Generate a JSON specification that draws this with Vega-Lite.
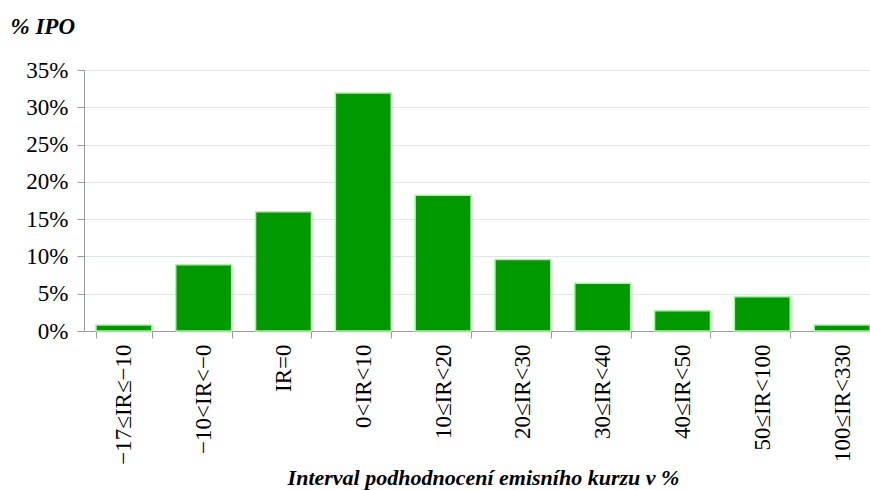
{
  "$schema": "https://vega.github.io/schema/vega-lite/v6.json",
  "autosize": {"type": "none"},
  "padding": {"left": 84, "top": 70, "right": 0, "bottom": 159},
  "width": 798,
  "height": 261,
  "background": "white",
  "config": {"view": {"stroke": null}, "font": "Liberation Serif"},
  "data": {"values": [
    {"interval": "−17≤IR≤−10", "pct": 0.008},
    {"interval": "−10<IR<−0", "pct": 0.089},
    {"interval": "IR=0", "pct": 0.16},
    {"interval": "0<IR<10", "pct": 0.319},
    {"interval": "10≤IR<20", "pct": 0.182},
    {"interval": "20≤IR<30", "pct": 0.096},
    {"interval": "30≤IR<40", "pct": 0.064},
    {"interval": "40≤IR<50", "pct": 0.027},
    {"interval": "50≤IR<100", "pct": 0.046},
    {"interval": "100≤IR<330", "pct": 0.008}
  ]},
  "mark": {"type": "bar", "fill": "#009900", "stroke": "#a6f5a0", "strokeWidth": 1.5},
  "encoding": {
    "x": {
      "field": "interval", "type": "nominal", "sort": null,
      "scale": {"paddingInner": 0.3, "paddingOuter": 0.15},
      "axis": {
        "title": "Interval podhodnocení emisního kurzu v %",
        "titleFont": "Liberation Serif", "titleFontStyle": "italic", "titleFontWeight": "bold",
        "titleFontSize": 22, "titleColor": "black",
        "titleBaseline": "alphabetic", "titleY": 153, "titleX": 399,
        "labelAngle": 270, "labelAlign": "right", "labelBaseline": "middle",
        "labelFont": "Liberation Serif", "labelFontSize": 23, "labelColor": "black",
        "labelPadding": 6, "labelLimit": 0,
        "domainColor": "#999999", "tickColor": "#999999", "tickSize": 7,
        "tickBand": "extent", "labelBound": false, "labelOverlap": false
      }
    },
    "y": {
      "field": "pct", "type": "quantitative",
      "scale": {"domain": [0, 0.35]},
      "axis": {
        "values": [0, 0.05, 0.1, 0.15, 0.2, 0.25, 0.3, 0.35],
        "format": ".0%",
        "title": "% IPO",
        "titleAngle": 0, "titleAlign": "left", "titleBaseline": "alphabetic",
        "titleX": -74, "titleY": -37,
        "titleFont": "Liberation Serif", "titleFontStyle": "italic", "titleFontWeight": "bold",
        "titleFontSize": 23, "titleColor": "black",
        "labelFont": "Liberation Serif", "labelFontSize": 23, "labelColor": "black",
        "labelPadding": 9,
        "domainColor": "#999999", "tickColor": "#999999", "tickSize": 7,
        "grid": true, "gridColor": "#dde6e6"
      }
    }
  }
}
